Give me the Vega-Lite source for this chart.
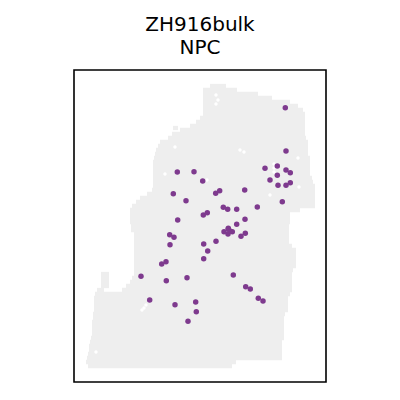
{
  "$schema": "https://vega.github.io/schema/vega-lite/v6.json",
  "width": 252,
  "height": 312,
  "autosize": {"type": "none"},
  "padding": {"left": 74, "top": 70, "right": 74, "bottom": 18},
  "background": "white",
  "title": {"text": ["ZH916bulk", "NPC"], "font": "DejaVu Sans", "fontSize": 20, "fontWeight": "normal", "color": "black", "lineHeight": 23, "anchor": "middle", "offset": 12},
  "config": {"view": {"stroke": "black", "strokeWidth": 1.6}},
  "datasets": {
    "tissue": [
      {"y": 16, "x0": 136, "x1": 152}, {"y": 20, "x0": 129, "x1": 163}, {"y": 24, "x0": 129, "x1": 184}, {"y": 28, "x0": 129, "x1": 198},
      {"y": 32, "x0": 129, "x1": 216}, {"y": 36, "x0": 129, "x1": 224}, {"y": 40, "x0": 129, "x1": 229}, {"y": 44, "x0": 129, "x1": 231},
      {"y": 48, "x0": 126, "x1": 231}, {"y": 52, "x0": 122, "x1": 231}, {"y": 56, "x0": 116, "x1": 231}, {"y": 58, "x0": 99, "x1": 104},
      {"y": 60, "x0": 106, "x1": 231}, {"y": 64, "x0": 98, "x1": 231}, {"y": 68, "x0": 94, "x1": 232}, {"y": 72, "x0": 86, "x1": 234},
      {"y": 76, "x0": 84, "x1": 234}, {"y": 80, "x0": 82, "x1": 234}, {"y": 84, "x0": 81, "x1": 234}, {"y": 88, "x0": 80, "x1": 236},
      {"y": 92, "x0": 79, "x1": 236}, {"y": 96, "x0": 79, "x1": 236}, {"y": 100, "x0": 79, "x1": 236}, {"y": 104, "x0": 79, "x1": 236},
      {"y": 108, "x0": 79, "x1": 238}, {"y": 112, "x0": 79, "x1": 239}, {"y": 116, "x0": 79, "x1": 241}, {"y": 120, "x0": 78, "x1": 241},
      {"y": 124, "x0": 73, "x1": 241}, {"y": 128, "x0": 66, "x1": 241}, {"y": 132, "x0": 62, "x1": 241}, {"y": 136, "x0": 58, "x1": 241},
      {"y": 140, "x0": 56, "x1": 226}, {"y": 144, "x0": 56, "x1": 216}, {"y": 148, "x0": 56, "x1": 216}, {"y": 152, "x0": 56, "x1": 216},
      {"y": 156, "x0": 57, "x1": 215}, {"y": 160, "x0": 57, "x1": 215}, {"y": 164, "x0": 60, "x1": 215}, {"y": 168, "x0": 60, "x1": 215},
      {"y": 172, "x0": 60, "x1": 215}, {"y": 176, "x0": 60, "x1": 218}, {"y": 180, "x0": 60, "x1": 222}, {"y": 184, "x0": 60, "x1": 222},
      {"y": 188, "x0": 60, "x1": 222}, {"y": 192, "x0": 60, "x1": 222}, {"y": 196, "x0": 60, "x1": 222}, {"y": 200, "x0": 60, "x1": 219},
      {"y": 204, "x0": 60, "x1": 218}, {"y": 204, "x0": 27, "x1": 35}, {"y": 208, "x0": 58, "x1": 218}, {"y": 208, "x0": 27, "x1": 35},
      {"y": 212, "x0": 56, "x1": 218}, {"y": 212, "x0": 27, "x1": 35}, {"y": 216, "x0": 52, "x1": 218}, {"y": 216, "x0": 27, "x1": 35},
      {"y": 220, "x0": 23, "x1": 30}, {"y": 220, "x0": 48, "x1": 218}, {"y": 224, "x0": 21, "x1": 216}, {"y": 228, "x0": 20, "x1": 214},
      {"y": 232, "x0": 20, "x1": 214}, {"y": 236, "x0": 20, "x1": 214}, {"y": 240, "x0": 20, "x1": 214}, {"y": 244, "x0": 19, "x1": 211},
      {"y": 248, "x0": 19, "x1": 210}, {"y": 252, "x0": 18, "x1": 210}, {"y": 256, "x0": 18, "x1": 210}, {"y": 260, "x0": 18, "x1": 210},
      {"y": 264, "x0": 18, "x1": 210}, {"y": 268, "x0": 17, "x1": 210}, {"y": 272, "x0": 16, "x1": 208}, {"y": 276, "x0": 15, "x1": 208},
      {"y": 280, "x0": 15, "x1": 208}, {"y": 284, "x0": 14, "x1": 208}, {"y": 288, "x0": 13, "x1": 208}, {"y": 292, "x0": 12, "x1": 162},
      {"y": 296, "x0": 14, "x1": 158}
    ],
    "gaps": [
      {"x": 142, "y": 25}, {"x": 144, "y": 30}, {"x": 142, "y": 34}, {"x": 166, "y": 80}, {"x": 170, "y": 82},
      {"x": 200, "y": 94}, {"x": 200, "y": 98}, {"x": 200, "y": 102}, {"x": 202, "y": 106}, {"x": 91, "y": 104},
      {"x": 225, "y": 117}, {"x": 196, "y": 125}, {"x": 224, "y": 88}, {"x": 101, "y": 77}, {"x": 133, "y": 110},
      {"x": 22, "y": 282}, {"x": 70, "y": 238}, {"x": 72, "y": 235}, {"x": 68, "y": 240}
    ],
    "npc": [
      {"x": 211.3, "y": 37.7}, {"x": 212, "y": 81}, {"x": 191, "y": 98.3}, {"x": 203.3, "y": 96}, {"x": 212, "y": 100},
      {"x": 216.3, "y": 102.7}, {"x": 203.3, "y": 105.3}, {"x": 196, "y": 110}, {"x": 204, "y": 115.3}, {"x": 212, "y": 115.3},
      {"x": 216.3, "y": 112.7}, {"x": 208.3, "y": 131.7}, {"x": 170.7, "y": 120}, {"x": 183.3, "y": 137}, {"x": 162.7, "y": 139.3},
      {"x": 153.7, "y": 139.3}, {"x": 149.3, "y": 137.3}, {"x": 171, "y": 149.3}, {"x": 162.7, "y": 154.3}, {"x": 154.3, "y": 158.3},
      {"x": 103.3, "y": 102}, {"x": 120, "y": 101.7}, {"x": 128.7, "y": 111}, {"x": 99.3, "y": 123.7}, {"x": 112, "y": 130.7},
      {"x": 141.7, "y": 123.3}, {"x": 145.7, "y": 120.7}, {"x": 129.3, "y": 145}, {"x": 133.3, "y": 142.7}, {"x": 103.7, "y": 150},
      {"x": 150, "y": 161.7}, {"x": 154.3, "y": 159}, {"x": 158.3, "y": 161.7}, {"x": 154, "y": 164}, {"x": 156, "y": 161},
      {"x": 171.3, "y": 163.3}, {"x": 167, "y": 166.3}, {"x": 95.7, "y": 164.7}, {"x": 100, "y": 167.3}, {"x": 96, "y": 174.7},
      {"x": 129.7, "y": 174}, {"x": 142, "y": 171.3}, {"x": 133.7, "y": 181}, {"x": 129.7, "y": 188.7}, {"x": 87.7, "y": 194},
      {"x": 92, "y": 191.7}, {"x": 67, "y": 206.3}, {"x": 92.3, "y": 210.7}, {"x": 113, "y": 207.7}, {"x": 159.3, "y": 205},
      {"x": 171.7, "y": 216.7}, {"x": 176.3, "y": 219}, {"x": 75.7, "y": 230}, {"x": 101, "y": 234.7}, {"x": 121.7, "y": 232},
      {"x": 122.3, "y": 241.7}, {"x": 114, "y": 251.3}, {"x": 184.3, "y": 228.3}, {"x": 189, "y": 231}
    ]
  },
  "layer": [
    {
      "data": {"name": "tissue"},
      "mark": {"type": "rule", "color": "#eeeeee", "strokeWidth": 4.3, "strokeCap": "butt"},
      "encoding": {
        "x": {"field": "x0", "type": "quantitative", "scale": {"domain": [0, 252], "nice": false, "zero": false}, "axis": null},
        "x2": {"field": "x1"},
        "y": {"field": "y", "type": "quantitative", "scale": {"domain": [0, 312], "nice": false, "zero": false, "reverse": true}, "axis": null}
      }
    },
    {
      "data": {"name": "gaps"},
      "mark": {"type": "circle", "color": "white", "size": 12, "opacity": 1},
      "encoding": {
        "x": {"field": "x", "type": "quantitative"},
        "y": {"field": "y", "type": "quantitative"}
      }
    },
    {
      "data": {"name": "npc"},
      "mark": {"type": "circle", "color": "#7e3a8e", "size": 30, "opacity": 1},
      "encoding": {
        "x": {"field": "x", "type": "quantitative"},
        "y": {"field": "y", "type": "quantitative"}
      }
    }
  ]
}
